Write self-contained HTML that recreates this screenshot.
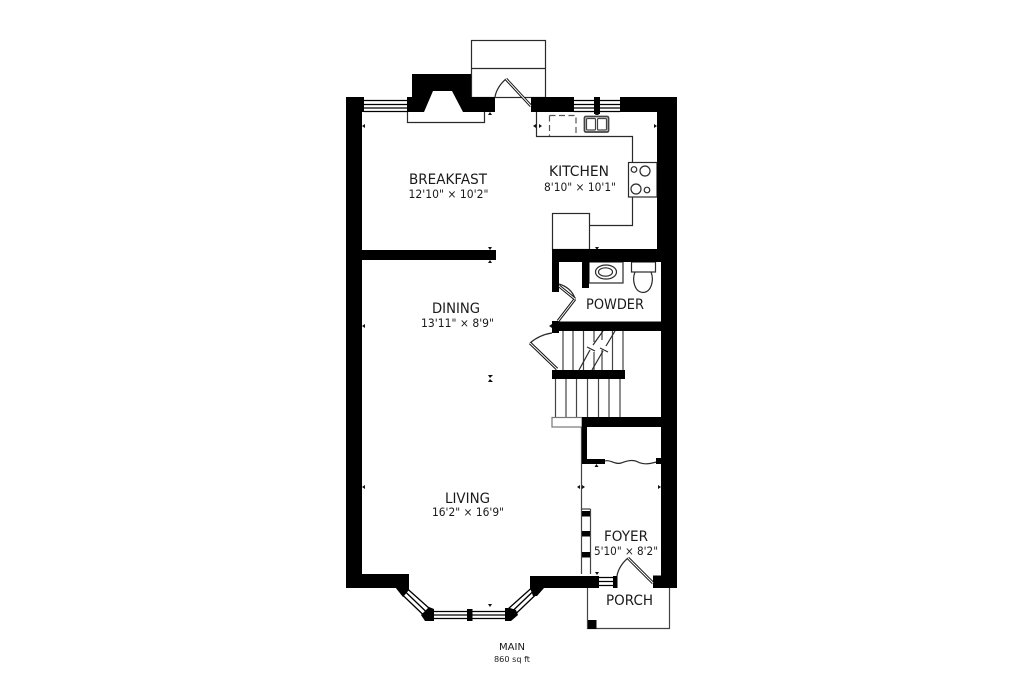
<!DOCTYPE html>
<html>
<head>
<meta charset="utf-8">
<style>
html,body{margin:0;padding:0;background:#fff}
svg{display:block}
text{font-family:"DejaVu Sans","Liberation Sans",sans-serif;fill:#1a1a1a}
.n{font-size:14.5px}
.d{font-size:11.5px}
</style>
</head>
<body>
<svg width="1024" height="683" viewBox="0 0 1024 683" xmlns="http://www.w3.org/2000/svg">
<rect width="1024" height="683" fill="#fff"/>

<!-- thin outlines -->
<g fill="none" stroke="#2a2a2a" stroke-width="1.2">
  <rect x="471.500" y="40.500" width="74" height="57"/>
  <path d="M471 68.500H545"/>
  <path d="M407.500 112V122.500H484.500V112"/>
  <path d="M536.500 112V136.500H632.500V225.500H590"/>
  <rect x="552.500" y="213.500" width="37" height="36" fill="#fff"/>
  <rect x="628.500" y="162.500" width="28.500" height="34.500" fill="#fff"/>
  <circle cx="634" cy="169.500" r="2.800"/>
  <circle cx="645" cy="171" r="5"/>
  <circle cx="636" cy="189" r="5"/>
  <circle cx="647" cy="190" r="2.800"/>
  <path d="M549.500 115.500H576V136M549.500 115.500V136" stroke-dasharray="6 3.500" stroke="#555"/>
  <rect x="589" y="262" width="34" height="21"/>
  <ellipse cx="606" cy="272" rx="10.500" ry="7"/>
  <ellipse cx="605.500" cy="272" rx="7" ry="4.200"/>
  <rect x="631.500" y="262" width="24" height="10"/>
  <path d="M635 272C632 279 634 292 643 292.500C652 292 654 279 651 272"/>
  <!-- arcs -->
  <path d="M506 79C501 83 496 90 495 97"/>
  <path d="M530 343C537 337 545 334 552 333"/>
  <path d="M628 558C623 562 618 569 617 576"/>
  <path d="M575 299C573 291 566 286 559 284"/>
  <!-- stairs -->
  <path stroke="#444" d="M563 331V370M573 331V370M583.500 331V370M594 331V342M594 352V370M602 331V340M602 350V370M612.500 331V370M623 331V370"/>
  <path stroke="#444" d="M555.500 379V417M566 379V417M576.500 379V417M587.500 379V417M598.500 379V417M609 379V417M620 379V417"/>
  <path d="M579 370L590 350M593 345L603 331M592 370L603 351M606 346L615 331"/>
  <path d="M587 347L595 351M600 348L608 352"/>
  <rect x="552" y="417.500" width="30" height="9.500" fill="#fff" stroke="#777"/>
  <!-- foyer -->
  <path stroke="#444" d="M581.500 427V574"/>
  <path stroke="#444" d="M590.500 509V574M581.500 509H590.500"/>
  <path d="M605 461C610 459 615 465 621 463S632 459 638 462S650 464 660 461"/>
  <!-- porch -->
  <path d="M587.500 588V628.500H669.500V588" stroke="#444"/>
</g>

<!-- sink -->
<g fill="none" stroke="#444" stroke-width="1.800">
  <rect x="584.500" y="116.500" width="24" height="15.500" rx="1.500"/>
  <rect x="586.500" y="118.500" width="9" height="11.500" rx="1" stroke-width="1.200"/>
  <rect x="597.500" y="118.500" width="9" height="11.500" rx="1" stroke-width="1.200"/>
</g>

<!-- walls -->
<g fill="#000">
  <rect x="346" y="97" width="16" height="491"/>
  <rect x="346" y="97" width="18" height="15"/>
  <rect x="346" y="574" width="63" height="14"/>
  <polygon points="395,587 409,587 409,590 403,597"/>
  <path d="M412 74H471V97H495V112H463L452 91H433L424 112H407V97H412Z"/>
  <rect x="531" y="97" width="43" height="15"/>
  <rect x="594" y="97" width="6" height="17"/>
  <rect x="620" y="97" width="57" height="15"/>
  <rect x="657" y="97" width="20" height="153"/>
  <rect x="661" y="249" width="16" height="339"/>
  <rect x="664" y="322" width="13" height="105"/>
  <!-- dining wall -->
  <rect x="362" y="250" width="134" height="10"/>
  <!-- kitchen bottom / powder -->
  <rect x="552" y="249" width="109" height="13"/>
  <rect x="552" y="249" width="7" height="43"/>
  <rect x="582" y="249" width="7" height="39"/>
  <rect x="552" y="321.500" width="112" height="9.500"/>
  <rect x="552" y="321" width="7" height="12"/>
  <!-- stairs walls -->
  <rect x="552" y="370" width="73" height="9"/>
  <rect x="582" y="417" width="82" height="10"/>
  <rect x="582" y="427" width="5" height="37"/>
  <rect x="582" y="459" width="23" height="5"/>
  <rect x="656" y="458" width="5" height="6"/>
  <!-- foyer window blocks -->
  <rect x="582" y="511" width="8" height="5.500"/>
  <rect x="582" y="531" width="8" height="5.500"/>
  <rect x="582" y="552" width="8" height="5.500"/>
  <!-- bottom right -->
  <rect x="530" y="576" width="69" height="12"/>
  <polygon points="530,588 544,588 537,596 533,596"/>
  <rect x="613" y="576" width="4.500" height="12"/>
  <rect x="653" y="575.500" width="24" height="12.500"/>
  <rect x="588" y="620" width="8.500" height="9"/>
  <!-- bay nodes -->
  <polygon points="429,607 434,609 434,621 425,621 421,615"/>
  <polygon points="510,608 516,610 518,615 511,621 505,621 505,608"/>
  <rect x="467" y="609" width="5.500" height="12"/>
</g>

<!-- windows -->
<g stroke="#000" stroke-width="1.300" fill="none">
  <path d="M364 100.500H407M364 104.500H407M364 108H407M364 111.500H407" />
  <path d="M574 100.500H620M574 104.500H620M574 108H620M574 111.500H620"/>
  <path d="M434 611.500H467M434 615H467M434 618.500H467M472 611.500H505M472 615H505M472 618.500H505"/>
  <path d="M406.500 588L430 609M404 590.500L427 612.500M401 593.500L424 615.500"/>
  <path d="M531.500 588L508 609M534 590.500L511 612.500M537 593.500L514 615.500"/>
  <path d="M599 577.500H613M599 581.500H613M599 585.500H613"/>
</g>

<!-- doors -->
<g stroke="#111" fill="none">
  <path d="M506 79L531 106" stroke-width="3"/>
  <path d="M506 79L531 106" stroke="#fff" stroke-width="1"/>
  <path d="M530 343L557 369" stroke-width="3"/>
  <path d="M530 343L557 369" stroke="#fff" stroke-width="1"/>
  <path d="M628 558L653 583" stroke-width="3"/>
  <path d="M628 558L653 583" stroke="#fff" stroke-width="1"/>
  <path d="M575 299L558 321" stroke-width="3"/>
  <path d="M575 299L558 321" stroke="#fff" stroke-width="1"/>
  <path d="M559 286L575 299" stroke-width="3"/>
  <path d="M559 286L575 299" stroke="#fff" stroke-width="1"/>
</g>

<!-- dimension ticks -->
<g fill="#111">
  <polygon points="362,126 365,124 365,128"/>
  <polygon points="533,126 536,124 536,128"/>
  <polygon points="542,126 539,124 539,128"/>
  <polygon points="657,126 654,124 654,128"/>
  <polygon points="490,112 488,115 492,115"/>
  <polygon points="597,250 595,247 599,247"/>
  <polygon points="597,112 595,115 599,115"/>
  <polygon points="490,250 488,247 492,247"/>
  <polygon points="490,260 488,263 492,263"/>
  <polygon points="549,326 552,324 552,328"/>
  <polygon points="362,326 365,324 365,328"/>
  <polygon points="488,375 493,375 490,378"/>
  <polygon points="488,382 493,382 490,379"/>
  <polygon points="362,487 365,485 365,489"/>
  <polygon points="577,487 580,485 580,489"/>
  <polygon points="585,487 582,485 582,489"/>
  <polygon points="661,487 658,485 658,489"/>
  <polygon points="596.500,464 594.500,467 598.500,467"/>
  <polygon points="597,575 595,572 599,572"/>
  <polygon points="490,607 488,604 492,604"/>
</g>

<!-- labels -->
<text class="n" x="409" y="184" textLength="78" lengthAdjust="spacingAndGlyphs">BREAKFAST</text>
<text class="d" x="408.500" y="198" textLength="80" lengthAdjust="spacingAndGlyphs">12'10" × 10'2"</text>
<text class="n" x="549" y="176" textLength="60" lengthAdjust="spacingAndGlyphs">KITCHEN</text>
<text class="d" x="544" y="191" textLength="72" lengthAdjust="spacingAndGlyphs">8'10" × 10'1"</text>
<text class="n" x="432" y="313" textLength="48" lengthAdjust="spacingAndGlyphs">DINING</text>
<text class="d" x="421" y="327" textLength="73" lengthAdjust="spacingAndGlyphs">13'11" × 8'9"</text>
<text class="n" x="445" y="503" textLength="45" lengthAdjust="spacingAndGlyphs">LIVING</text>
<text class="d" x="432" y="516" textLength="72" lengthAdjust="spacingAndGlyphs">16'2" × 16'9"</text>
<text class="n" x="586" y="309" textLength="58" lengthAdjust="spacingAndGlyphs">POWDER</text>
<text class="n" x="604" y="541" textLength="44" lengthAdjust="spacingAndGlyphs">FOYER</text>
<text class="d" x="594" y="555" textLength="64" lengthAdjust="spacingAndGlyphs">5'10" × 8'2"</text>
<text class="n" x="606" y="605" textLength="47" lengthAdjust="spacingAndGlyphs">PORCH</text>
<text x="499" y="650" font-size="9.500" textLength="26" lengthAdjust="spacingAndGlyphs">MAIN</text>
<text x="494" y="662" font-size="8" textLength="36" lengthAdjust="spacingAndGlyphs">860 sq ft</text>
</svg>
</body>
</html>
